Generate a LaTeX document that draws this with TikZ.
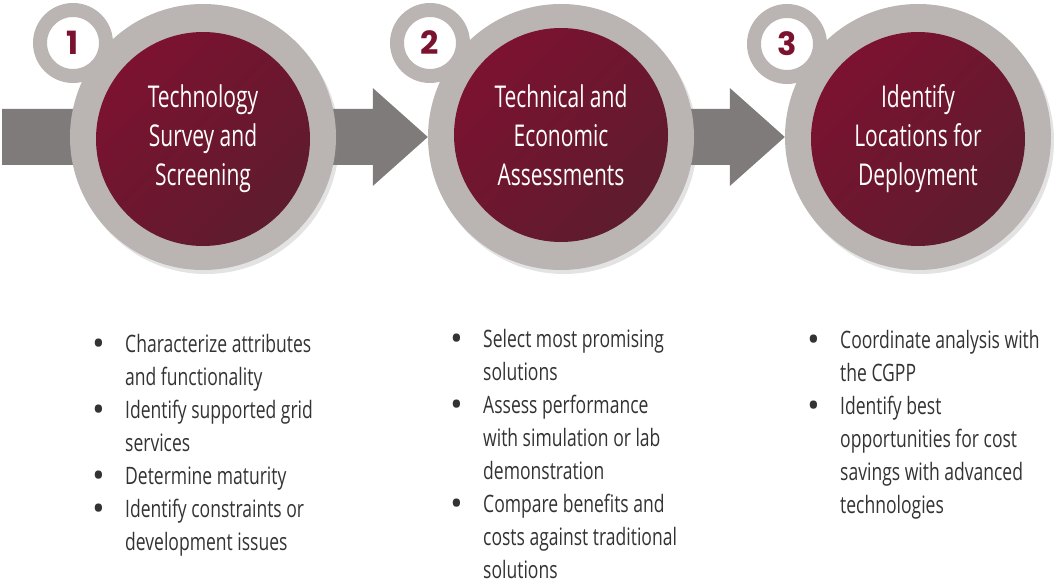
\documentclass[tikz,border=0pt]{standalone}
\usepackage{fontspec}
\setmainfont{Open Sans}[FakeStretch=0.7]
\newfontfamily\listfont{Open Sans}[FakeStretch=0.73]
\newfontfamily\numfont{Poppins}
\newfontfamily\dotfont{Open Sans}
\usetikzlibrary{calc,shadows,backgrounds}

\definecolor{ringgray}{RGB}{186,180,179}
\definecolor{arrowgray}{RGB}{127,123,122}
\definecolor{redA}{RGB}{124,18,48}
\definecolor{redB}{RGB}{94,28,46}
\definecolor{numred}{RGB}{122,18,48}
\definecolor{textgray}{RGB}{51,51,51}

\tikzset{
  ring/.style={circle, fill=ringgray, minimum size=266, inner sep=0pt,
    drop shadow={opacity=0.22, shadow xshift=3pt, shadow yshift=-4pt}},
  core/.style={circle, minimum size=214, inner sep=0pt,
    top color=redA, bottom color=redB, shading angle=45,
    text=white, align=center, font=\fontsize{30}{39}\selectfont},
  badge/.style={circle, fill=white, draw=ringgray, line width=14,
    minimum size=66, inner sep=0pt, text=numred,
    font=\numfont\bfseries\fontsize{32}{32}\selectfont,
    drop shadow={opacity=0.22, shadow xshift=2pt, shadow yshift=-3pt}},
  blockarrow/.style={fill=arrowgray},
  itemlist/.style={anchor=base west, inner sep=0pt, text=textgray,
    font=\listfont\fontsize{24}{33}\selectfont}
}
\newcommand{\dotitem}{\raisebox{-3pt}{\dotfont\fontsize{34}{33}\selectfont\textbullet}}

\begin{document}
\begin{tikzpicture}[x=1pt,y=-1pt]
  \useasboundingbox (0,0) rectangle (1055,583);

  % steps
  \node[ring] (s1) at (203,137) {};
  \node[core] (c1) at ($(s1)+(0,2)$) {Technology\\Survey and\\Screening};
  \node[badge] (b1) at ($(s1)+(-130,-94)$) {1};

  \node[ring] (s2) at (561,137) {};
  \node[core] (c2) at ($(s2)+(0,-2)$) {Technical and\\Economic\\Assessments};
  \node[badge] (b2) at ($(s2)+(-131,-94)$) {2};

  \node[ring] (s3) at (918,137) {};
  \node[core] (c3) at ($(s3)+(0,2)$) {Identify\\Locations for\\Deployment};
  \node[badge] (b3) at ($(s3)+(-131,-93)$) {3};

  % arrows
  \coordinate (in) at (2,137);
  \begin{pgfonlayer}{background}
    \fill[blockarrow] ($(in)+(0,-28)$) -- ($(s2.west)+(-55,-28)$) -- ++(0,-21)
      -- (s2.west) -- ++(-55,49) -- ++(0,-21) -- ($(in)+(0,28)$) -- cycle;
    \fill[blockarrow] ($(s2)+(0,-28)$) -- ($(s3.west)+(-55,-28)$) -- ++(0,-21)
      -- (s3.west) -- ++(-55,49) -- ++(0,-21) -- ($(s2)+(0,28)$) -- cycle;
  \end{pgfonlayer}

  % lists
  \node[itemlist] (l1) at (92,352) {\begin{tabular}[t]{@{}p{33pt}@{}l@{}}
    \dotitem & Characterize attributes\\
             & and functionality\\
    \dotitem & Identify supported grid\\
             & services\\
    \dotitem & Determine maturity\\
    \dotitem & Identify constraints or\\
             & development issues
  \end{tabular}};
  \node[itemlist] (l2) at (450,347) {\begin{tabular}[t]{@{}p{33pt}@{}l@{}}
    \dotitem & Select most promising\\
             & solutions\\
    \dotitem & Assess performance\\
             & with simulation or lab\\
             & demonstration\\
    \dotitem & Compare benefits and\\
             & costs against traditional\\
             & solutions
  \end{tabular}};
  \node[itemlist] (l3) at (807,348) {\begin{tabular}[t]{@{}p{33pt}@{}l@{}}
    \dotitem & Coordinate analysis with\\
             & the CGPP\\
    \dotitem & Identify best\\
             & opportunities for cost\\
             & savings with advanced\\
             & technologies
  \end{tabular}};
\end{tikzpicture}
\end{document}
